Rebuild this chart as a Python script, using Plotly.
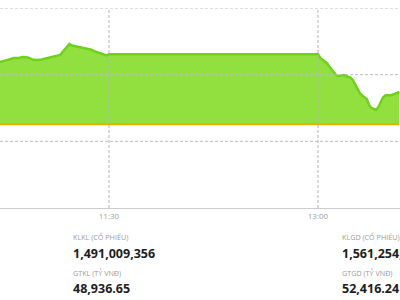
import plotly.graph_objects as go

DAY = "2024-01-01 "
times = ["10:43", "10:45", "10:47", "10:49", "10:51", "10:53", "10:55", "10:57", "10:59",
         "11:01", "11:03", "11:05", "11:07", "11:09", "11:10", "11:11", "11:12", "11:13",
         "11:14", "11:16", "11:18", "11:20", "11:22", "11:24", "11:26", "11:28", "11:29",
         "11:30", "13:00", "13:01", "13:02", "13:03", "13:04", "13:05", "13:06", "13:07",
         "13:08", "13:09", "13:10", "13:11", "13:12", "13:13", "13:14", "13:15", "13:16",
         "13:17", "13:18", "13:19", "13:20", "13:21", "13:22", "13:23", "13:24", "13:25",
         "13:26", "13:27", "13:28", "13:29", "13:30", "13:31", "13:32", "13:33", "13:34",
         "13:35"]
values = [1291.9, 1292.05, 1292.28, 1292.5, 1292.5, 1292.65, 1292.58, 1292.28, 1292.2,
          1292.28, 1292.43, 1292.58, 1292.73, 1292.95, 1293.4, 1293.85, 1294.23, 1294.6,
          1294.38, 1294.23, 1294.15, 1294.0, 1293.78, 1293.48, 1293.25, 1293.03, 1292.88,
          1293.05, 1293.05, 1292.5, 1292.2, 1291.98, 1291.68, 1291.15, 1290.7, 1290.4,
          1289.88, 1289.8, 1289.88, 1289.95, 1289.8, 1289.73, 1289.58, 1289.2, 1288.6,
          1288.0, 1287.25, 1286.88, 1286.65, 1286.35, 1285.45, 1285.0, 1284.85, 1284.7,
          1285.15, 1285.9, 1286.58, 1286.88, 1286.95, 1286.88, 1286.95, 1287.1, 1287.25,
          1287.4]
reference = 1282.55
x_range = ["10:43:04", "13:35:19"]
y_range = [1270, 1300]
x_ticks = ["11:30", "13:00"]
y_grid = [1280, 1290, 1300]

labels_left = ["KLKL (CỔ PHIẾU)", "GTKL (TỶ VNĐ)"]
numbers_left = ["1,491,009,356", "48,936.65"]
labels_right = ["KLGD (CỔ PHIẾU)", "GTGD (TỶ VNĐ)"]
numbers_right = ["1,561,254,372", "52,416.24"]

xs = [DAY + t for t in times]

fig = go.Figure()
fig.add_trace(go.Scatter(x=[xs[0], xs[-1]], y=[reference, reference], mode="lines",
                         line=dict(color="rgba(0,0,0,0)", width=0), hoverinfo="skip",
                         showlegend=False))
fig.add_trace(go.Scatter(x=xs, y=values, mode="lines", fill="tonexty",
                         fillcolor="#92E040", line=dict(color="#6FD21A", width=2.5),
                         showlegend=False))
fig.add_trace(go.Scatter(x=[xs[0], xs[-1]], y=[reference, reference], mode="lines",
                         line=dict(color="#DDB500", width=2), showlegend=False))

shapes = []
for g in y_grid:
    shapes.append(dict(type="line", xref="paper", yref="y", x0=0, x1=1, y0=g, y1=g,
                       line=dict(color="#BDBDBD", width=1, dash="3px,2px"), layer="above"))
for t in x_ticks:
    shapes.append(dict(type="line", xref="x", yref="paper", x0=DAY + t, x1=DAY + t, y0=0, y1=1,
                       line=dict(color="#B5B5B5", width=1, dash="3px,2px"), layer="above"))

annotations = []
def py(y):
    return (208 - y) / 200.0

for col_x, labs, nums in [(71, labels_left, numbers_left), (340, labels_right, numbers_right)]:
    for i in range(2):
        ly = 237 + i * 36
        ny = 253 + i * 35
        annotations.append(dict(xref="paper", yref="paper", x=col_x / 400.0, y=py(ly),
                                xanchor="left", yanchor="middle", showarrow=False,
                                text=labs[i], font=dict(family="Open Sans", size=7.2, color="#9A9A9A")))
        annotations.append(dict(xref="paper", yref="paper", x=col_x / 400.0, y=py(ny),
                                xanchor="left", yanchor="middle", showarrow=False,
                                text="<b>" + nums[i] + "</b>",
                                font=dict(family="Open Sans", size=12.5, color="#1E1E1E")))

fig.update_layout(
    width=400, height=300,
    margin=dict(l=0, r=0, t=8, b=92),
    paper_bgcolor="white", plot_bgcolor="white",
    shapes=shapes, annotations=annotations,
    xaxis=dict(type="date", range=[DAY + x_range[0], DAY + x_range[1]],
               tickvals=[DAY + t for t in x_ticks], ticktext=x_ticks,
               showgrid=False, zeroline=False, showline=True, linecolor="#CCCCCC", linewidth=1,
               ticks="", tickfont=dict(family="Open Sans", size=8, color="#A0A0A0")),
    yaxis=dict(range=y_range, showgrid=False, zeroline=False, showticklabels=False,
               showline=False, ticks=""),
)

fig.write_html("out.html")
